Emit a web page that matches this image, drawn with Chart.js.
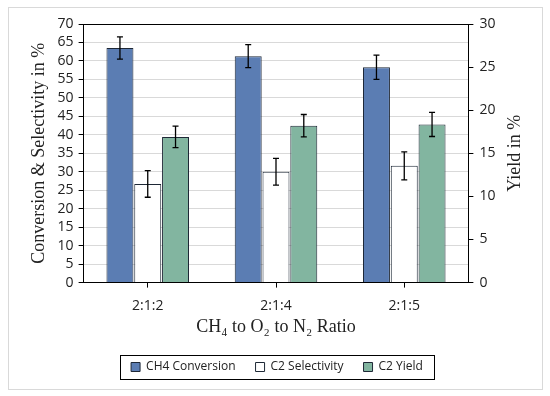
<!DOCTYPE html>
<html>
<head>
<meta charset="utf-8">
<script src="https://cdn.jsdelivr.net/npm/chart.js@4"></script>
<style>
  body { margin: 0; background: #fff; }
  .frame { position: absolute; left: 8px; top: 7px; width: 533px; height: 381px; border: 1px solid #d9d9d9; }
  .wrap { position: absolute; left: 0; top: 0; width: 550px; height: 396px; }
</style>
</head>
<body>
<div class="frame"></div>
<div class="wrap"><canvas id="chart" width="550" height="396"></canvas></div>
<script>
// Data
const categories = ['2:1:2', '2:1:4', '2:1:5'];
const ch4Conversion = [63.5, 61.3, 58.3];
const ch4ConversionErr = [3.0, 3.1, 3.3];
const c2Selectivity = [26.7, 30.0, 31.6];
const c2SelectivityErr = [3.6, 3.6, 3.8];
const c2Yield = [16.9, 18.2, 18.35];   // on the right axis
const c2YieldErr = [1.25, 1.3, 1.4];

const leftMax = 70;
const rightMax = 30;
const tickStep = 5;
const rightTitle = 'Yield in %';

const serif = "'Liberation Serif', 'Times New Roman', serif";
const sans = "'Open Sans', 'DejaVu Sans', sans-serif";

// draws the error bars with the scales of each dataset
const errorBars = {
    id: 'errorBars',
    afterDatasetsDraw(chart) {
        const ctx = chart.ctx;
        ctx.save();
        ctx.strokeStyle = '#000';
        ctx.lineWidth = 1.3;
        chart.data.datasets.forEach((ds, i) => {
            const meta = chart.getDatasetMeta(i);
            const scale = chart.scales[ds.yAxisID];
            meta.data.forEach((bar, j) => {
                const top = scale.getPixelForValue(ds.data[j] + ds.errors[j]);
                const bottom = scale.getPixelForValue(ds.data[j] - ds.errors[j]);
                ctx.beginPath();
                ctx.moveTo(bar.x, top);
                ctx.lineTo(bar.x, bottom);
                ctx.moveTo(bar.x - 3, top);
                ctx.lineTo(bar.x + 3, top);
                ctx.moveTo(bar.x - 3, bottom);
                ctx.lineTo(bar.x + 3, bottom);
                ctx.stroke();
            });
        });
        ctx.restore();
    }
};

// box around the legend items + right axis title read bottom to top
const extras = {
    id: 'extras',
    afterDraw(chart) {
        const ctx = chart.ctx;
        const boxes = chart.legend.legendHitBoxes;
        ctx.save();
        if (boxes && boxes.length) {
            const left = Math.min(...boxes.map(b => b.left)) - 11;
            const right = Math.max(...boxes.map(b => b.left + b.width)) + 11;
            const top = Math.min(...boxes.map(b => b.top)) - 6;
            const bottom = Math.max(...boxes.map(b => b.top + b.height)) + 6;
            ctx.strokeStyle = '#000';
            ctx.lineWidth = 1;
            ctx.strokeRect(Math.round(left) + 0.5, Math.round(top) + 0.5, Math.round(right - left), Math.round(bottom - top));
        }
        const area = chart.chartArea;
        const y1 = chart.scales.y1;
        ctx.translate(y1.right - 11, (area.top + area.bottom) / 2);
        ctx.rotate(-Math.PI / 2);
        ctx.fillStyle = '#222';
        ctx.font = '18px ' + serif;
        ctx.textAlign = 'center';
        ctx.textBaseline = 'middle';
        ctx.fillText(rightTitle, 0, 0);
        ctx.restore();
    }
};

new Chart(document.getElementById('chart'), {
    type: 'bar',
    data: {
        labels: categories,
        datasets: [
            {
                label: 'CH4 Conversion',
                data: ch4Conversion,
                errors: ch4ConversionErr,
                yAxisID: 'y',
                backgroundColor: '#5b7db3',
                borderColor: '#1e2836',
                borderWidth: 1
            },
            {
                label: 'C2 Selectivity',
                data: c2Selectivity,
                errors: c2SelectivityErr,
                yAxisID: 'y',
                backgroundColor: '#ffffff',
                borderColor: '#1e2836',
                borderWidth: 1
            },
            {
                label: 'C2 Yield',
                data: c2Yield,
                errors: c2YieldErr,
                yAxisID: 'y1',
                backgroundColor: '#82b5a0',
                borderColor: '#1e2836',
                borderWidth: 1
            }
        ]
    },
    options: {
        responsive: false,
        animation: false,
        layout: { padding: { left: 28, right: 24, top: 24, bottom: 13 } },
        datasets: {
            bar: { categoryPercentage: 0.65, barPercentage: 0.97 }
        },
        scales: {
            x: {
                grid: { display: true, drawOnChartArea: false, offset: false, tickLength: 5, color: '#000' },
                border: { color: '#000' },
                ticks: { color: '#222', font: { family: sans, size: 14 }, padding: 10 },
                title: {
                    display: true,
                    text: 'CH\u2084 to O\u2082 to N\u2082 Ratio',
                    color: '#222',
                    font: { family: serif, size: 18 },
                    padding: { top: -8, bottom: 3 }
                }
            },
            y: {
                position: 'left',
                min: 0,
                max: leftMax,
                ticks: { stepSize: tickStep, autoSkip: false, color: '#222', font: { family: sans, size: 14 }, padding: 5 },
                grid: {
                    color: ctx => ctx.tick && ctx.tick.value === leftMax ? '#000' : '#d9d9d9',
                    tickColor: '#000',
                    tickLength: 5
                },
                border: { color: '#000' },
                title: {
                    display: true,
                    text: 'Conversion & Selectivity in %',
                    color: '#222',
                    font: { family: serif, size: 18 },
                    padding: { top: 0, bottom: 3 }
                }
            },
            y1: {
                position: 'right',
                min: 0,
                max: rightMax,
                ticks: { stepSize: tickStep, autoSkip: false, color: '#222', font: { family: sans, size: 14 }, padding: 6 },
                grid: { drawOnChartArea: false, tickColor: '#000', tickLength: 5 },
                border: { color: '#000' },
                // space kept for the title, drawn by the extras plugin
                title: {
                    display: true,
                    text: rightTitle,
                    color: 'rgba(0,0,0,0)',
                    font: { family: serif, size: 18 },
                    padding: { top: 3, bottom: 0 }
                }
            }
        },
        plugins: {
            legend: {
                position: 'bottom',
                labels: {
                    boxWidth: 9,
                    boxHeight: 9,
                    padding: 20,
                    color: '#222',
                    font: { family: sans, size: 12 }
                }
            },
            tooltip: { enabled: false }
        }
    },
    plugins: [errorBars, extras]
});
</script>
</body>
</html>
